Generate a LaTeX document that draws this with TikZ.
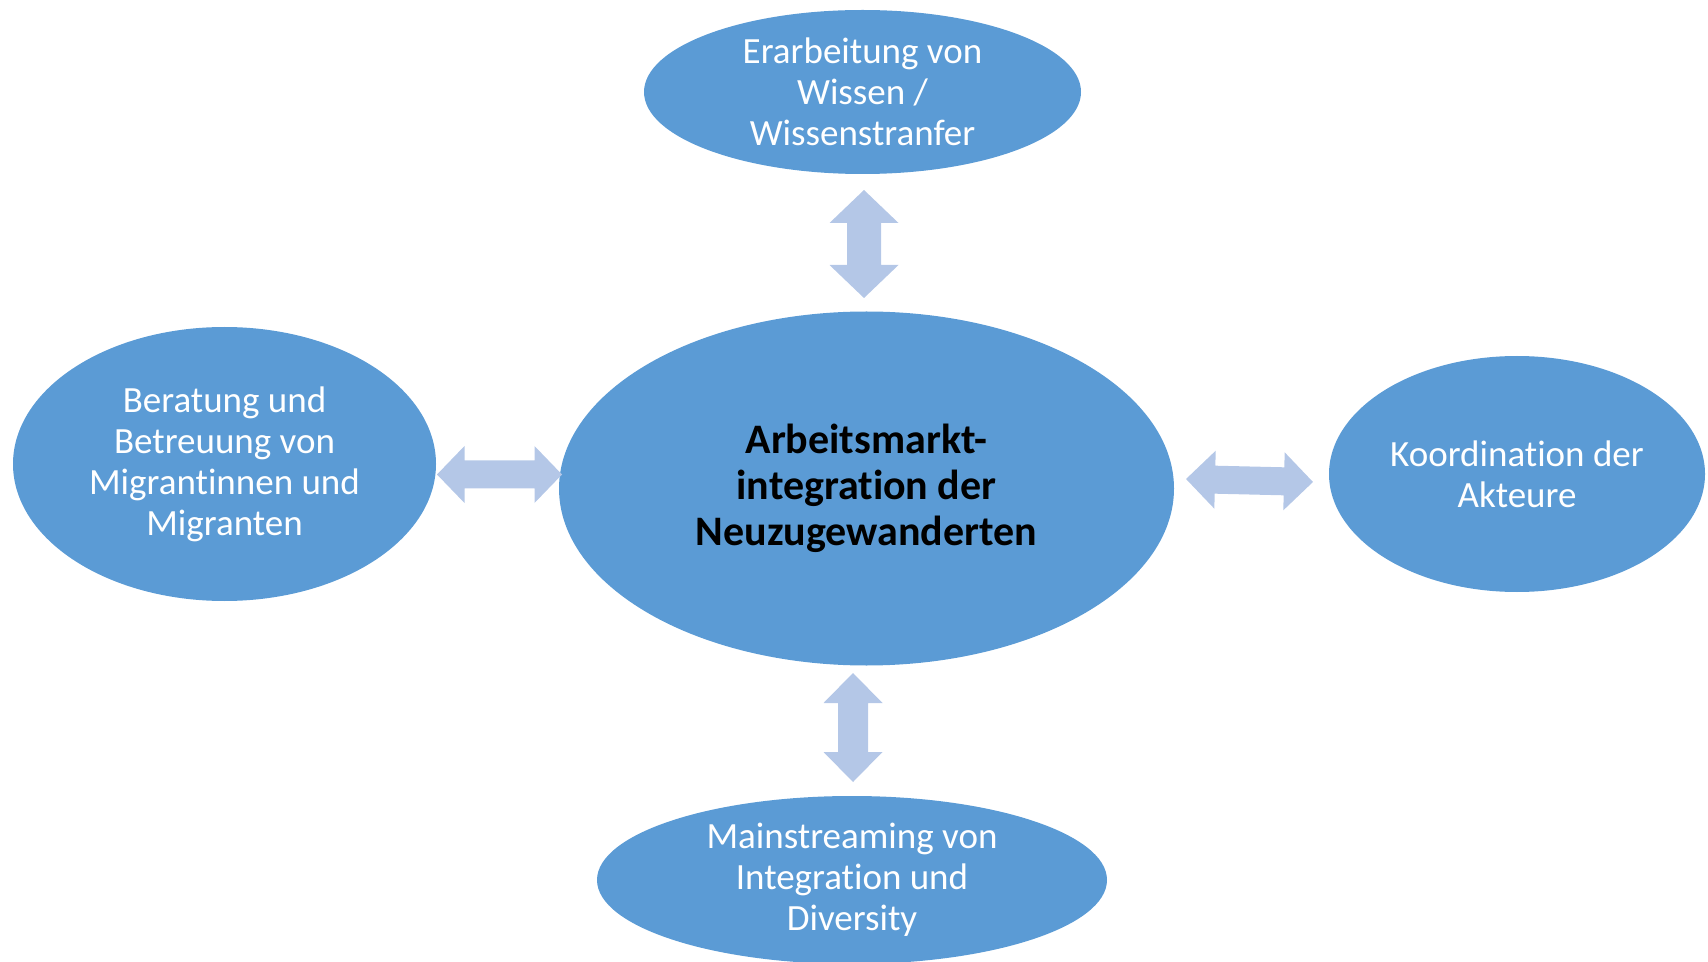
\documentclass[tikz,border=0pt]{standalone}
\usepackage{fontspec}
\setmainfont{Carlito}[Ligatures=NoCommon]
\usetikzlibrary{shapes.geometric}
\definecolor{ellblue}{HTML}{5B9BD5}
\definecolor{arrblue}{HTML}{B4C7E7}
\tikzset{
  bubble/.style={ellipse, fill=ellblue, draw=none, inner sep=0pt, align=center,
    text=white, font=\fontsize{18.5pt}{20.5pt}\selectfont},
  centerbubble/.style={bubble, text=black, font=\fontsize{21pt}{23pt}\selectfont\bfseries},
  arrowfill/.style={fill=arrblue, draw=none}
}
% #1 centre, #2 angle, #3 half length, #4 head length, #5 head half width, #6 shaft half width
\newcommand{\dblarr}[6]{%
  \path[arrowfill, shift={#1}, rotate=#2]
    (-#3,0) -- (-#3+#4,#5) -- (-#3+#4,#6) -- (#3-#4,#6) -- (#3-#4,#5) -- (#3,0)
    -- (#3-#4,-#5) -- (#3-#4,-#6) -- (-#3+#4,-#6) -- (-#3+#4,-#5) -- cycle;}
\begin{document}
\begin{tikzpicture}[x=0.5pt, y=-0.5pt]
\useasboundingbox (0,0) rectangle (1708,962);
\node[bubble, minimum width=218.5pt, minimum height=82pt] (top) at (862.5,92)
  {Erarbeitung von\\Wissen /\\Wissenstranfer};
\node[centerbubble, minimum width=307.5pt, minimum height=177pt] (mid) at (866.5,488.5)
  {Arbeitsmarkt-\\integration der\\Neuzugewanderten};
\node[bubble, minimum width=211.5pt, minimum height=137pt] (left) at (224.5,464)
  {Beratung und\\Betreuung von\\Migrantinnen und\\Migranten};
\node[bubble, minimum width=188pt, minimum height=118pt] (right) at (1517,474)
  {Koordination der\\Akteure};
\node[bubble, minimum width=255pt, minimum height=84pt] (bottom) at (852,880)
  {Mainstreaming von\\Integration und\\Diversity};
\dblarr{(864,244)}{90}{54}{33}{34.5}{17}
\dblarr{(853,727.5)}{90}{54.5}{30}{29.5}{15}
\dblarr{(499.5,474.5)}{0}{62.5}{27.5}{28.5}{14}
\dblarr{(1249.5,480.5)}{-1.35}{63.5}{29}{29}{14}
\end{tikzpicture}
\end{document}
